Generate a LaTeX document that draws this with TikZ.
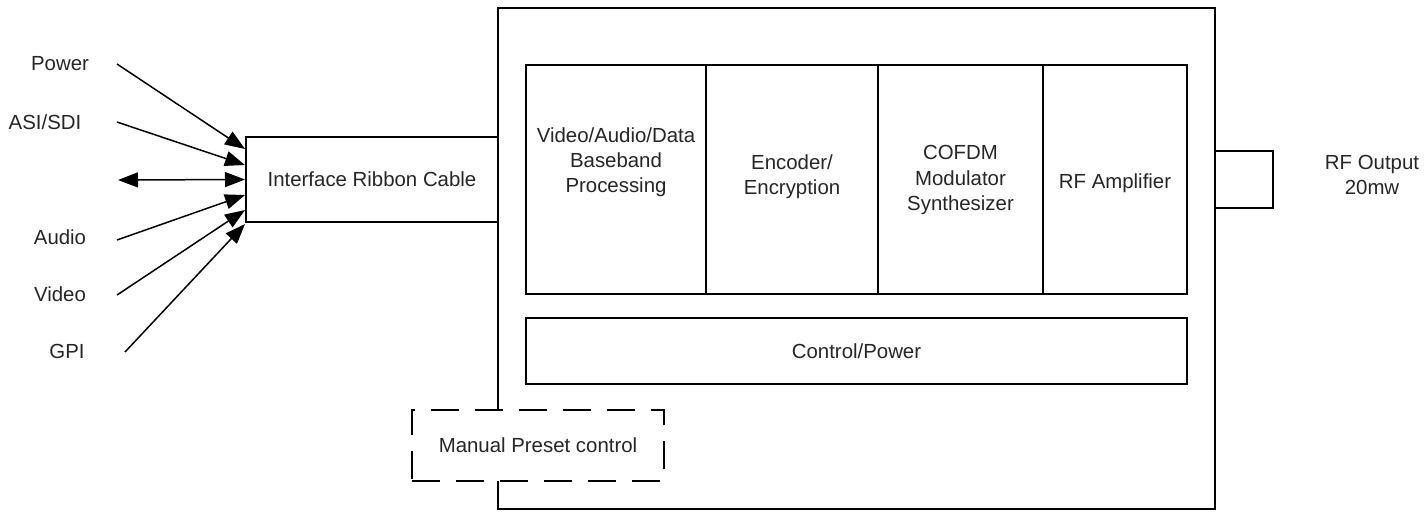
\documentclass[tikz,border=0pt]{standalone}
\usepackage{fontspec}
\setmainfont{Liberation Sans}
\usetikzlibrary{arrows.meta,calc}
\begin{document}
\begin{tikzpicture}[x=0.5pt,y=-0.5pt,
  box/.style={draw=black,line width=1pt,inner sep=0pt,fill=white},
  lbl/.style={font=\fontsize{10.2pt}{12.6pt}\selectfont,align=center,inner sep=1pt,text=black!85},
  conn/.style={line width=0.75pt,-{Triangle[length=10pt,width=7.5pt]}},
  dconn/.style={line width=0.75pt,{Triangle[length=10pt,width=7.5pt]}-{Triangle[length=10pt,width=7.5pt]}}]
\useasboundingbox (0,0) rectangle (1427,511);
% outer box
\node[box,minimum width=358.5pt,minimum height=250.5pt] (outer) at (856.5,258.5) {};
% interface
\node[box,minimum width=126pt,minimum height=42.5pt,lbl] (ifc) at (372,179.5) {Interface Ribbon Cable};
% inner blocks
\node[box,minimum width=90pt,minimum height=114.5pt] (b1) at (616,179.5) {};
\node[box,minimum width=86pt,minimum height=114.5pt] (b2) at (792,179.5) {};
\node[box,minimum width=82.5pt,minimum height=114.5pt] (b3) at (960.5,179.5) {};
\node[box,minimum width=72pt,minimum height=114.5pt] (b4) at (1115,179.5) {};
\node[lbl] (b1t) at (616,162) {Video/Audio/Data\\Baseband\\Processing};
\node[lbl] (b2t) at (792,177) {Encoder/\\Encryption};
\node[lbl] (b3t) at (960.5,180) {COFDM\\Modulator\\Synthesizer};
\node[lbl] (b4t) at (1115,183) {RF Amplifier};
% control
\node[box,minimum width=330.5pt,minimum height=33pt,lbl] (ctl) at (856.5,351) {Control/Power};
% manual preset
\node[box,dash pattern=on 14pt off 8pt,minimum width=126pt,minimum height=35.5pt,lbl] (man) at (538,445.5) {Manual Preset control};
% RF output
\node[box,minimum width=29pt,minimum height=28.5pt] (rf) at (1244,179.5) {};
\node[lbl] (rft) at (1372,175) {RF Output\\20mw};
% input labels
\node[lbl] (pw) at (60,64) {Power};
\node[lbl] (asi) at (45,122) {ASI/SDI};
\node[lbl] (aud) at (60,237) {Audio};
\node[lbl] (vid) at (60,294) {Video};
\node[lbl] (gpi) at (67,351) {GPI};
\coordinate (pws) at (117,64);
\coordinate (asis) at (117,122);
\coordinate (bis) at (118,180);
\coordinate (auds) at (117,240);
\coordinate (vids) at (117,295);
\coordinate (gpis) at (125,352);
\draw[conn] (pws) -- ($(ifc.west)+(0,-30.5)$);
\draw[conn] (asis) -- ($(ifc.west)+(0,-14.5)$);
\draw[dconn] (bis) -- (ifc.west);
\draw[conn] (auds) -- ($(ifc.west)+(0,15.5)$);
\draw[conn] (vids) -- ($(ifc.west)+(0,30.5)$);
\draw[conn] (gpis) -- ($(ifc.west)+(0,44.5)$);
\end{tikzpicture}
\end{document}
